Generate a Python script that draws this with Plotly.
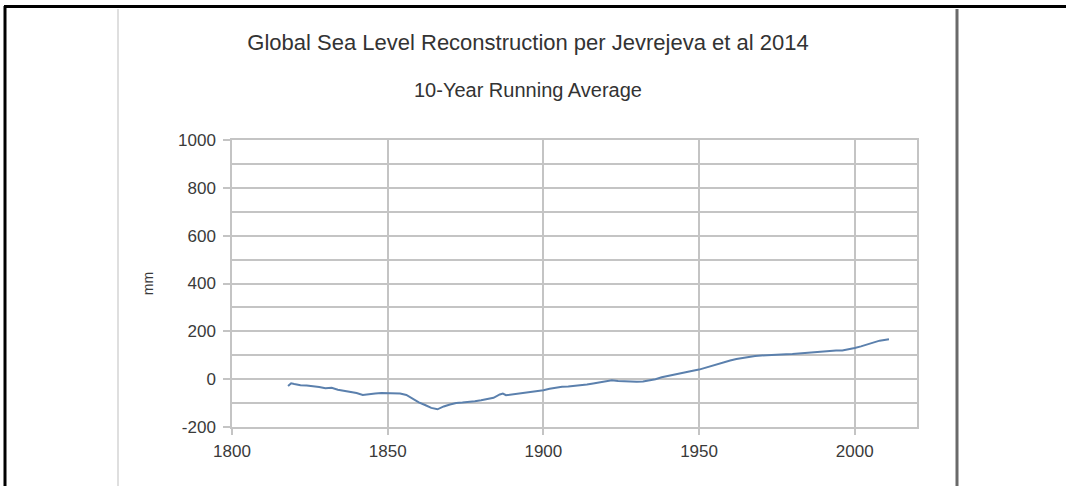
import plotly.graph_objects as go

years = [1818, 1819, 1820, 1822, 1824, 1826, 1828, 1830, 1832, 1834, 1836, 1838,
         1840, 1842, 1844, 1846, 1848, 1850, 1852, 1854, 1856, 1858, 1860, 1862,
         1864, 1866, 1868, 1870, 1872, 1874, 1876, 1878, 1880, 1882, 1884, 1886,
         1887, 1888, 1890, 1892, 1894, 1896, 1898, 1900, 1902, 1904, 1906, 1908,
         1910, 1912, 1914, 1916, 1918, 1920, 1922, 1924, 1926, 1928, 1930, 1932,
         1934, 1936, 1938, 1940, 1942, 1944, 1946, 1948, 1950, 1952, 1954, 1956,
         1958, 1960, 1962, 1964, 1966, 1968, 1970, 1972, 1974, 1976, 1978, 1980,
         1982, 1984, 1986, 1988, 1990, 1992, 1994, 1996, 1998, 2000, 2002, 2004,
         2006, 2008, 2010, 2011]
sea_level_mm = [-29, -17, -20, -25, -26, -28, -33, -38, -36, -44, -48, -52,
                -58, -66, -62, -60, -58, -58, -57, -60, -66, -82, -97, -108,
                -120, -126, -114, -106, -100, -98, -96, -92, -88, -84, -78, -64,
                -60, -67, -64, -60, -57, -54, -50, -46, -40, -35, -32, -31,
                -29, -26, -22, -18, -14, -10, -5, -8, -10, -11, -11, -10,
                -6, 0, 8, 14, 20, 25, 30, 35, 40, 48, 56, 64,
                71, 78, 84, 89, 93, 97, 99, 101, 102, 103, 104, 105,
                107, 110, 113, 115, 118, 119, 120, 120, 124, 130, 137, 146,
                155, 161, 165, 167]

title_text = "Global Sea Level Reconstruction per Jevrejeva et al 2014"
subtitle_text = "10-Year Running Average"
y_title = "mm"
x_range = [1800, 2020]
y_range = [-200, 1000]
y_tick_values = [-200, 0, 200, 400, 600, 800, 1000]
y_tick_labels = ["-200", "0", "200", "400", "600", "800", "1000"]

FONT = "Liberation Sans, Arial, sans-serif"
GRID = "#c4c4c4"
TXT = "#3a3a3a"

fig = go.Figure()
fig.add_trace(go.Scatter(x=years, y=sea_level_mm, mode="lines",
                         line=dict(color="#5b80ad", width=2), showlegend=False))

W, H = 1066, 486
L, R, T, B = 232, 149, 140, 59
pw, ph = W - L - R, H - T - B

def px(x):
    return (x - L) / pw

def py(y):
    return (H - B - y) / ph

shapes = [
    dict(type="line", xref="paper", yref="paper", x0=px(4), x1=px(1066), y0=py(6.5), y1=py(6.5),
         line=dict(color="black", width=3)),
    dict(type="line", xref="paper", yref="paper", x0=px(5), x1=px(5), y0=py(6), y1=py(486),
         line=dict(color="black", width=3)),
    dict(type="line", xref="paper", yref="paper", x0=px(118), x1=px(118), y0=py(9), y1=py(486),
         line=dict(color="#d4d4d4", width=1.5)),
    dict(type="line", xref="paper", yref="paper", x0=px(957), x1=px(957), y0=py(9), y1=py(486),
         line=dict(color="#6a6a6a", width=3)),
]

fig.update_layout(
    width=W, height=H,
    margin=dict(l=L, r=R, t=T, b=B),
    paper_bgcolor="white", plot_bgcolor="white",
    font=dict(family=FONT, color=TXT),
    title=dict(text=title_text, xref="container", x=528 / W, xanchor="center",
               yref="container", y=1 - 42 / H, yanchor="middle",
               font=dict(size=22, color="#333333", family=FONT)),
    annotations=[dict(text=subtitle_text, xref="paper", yref="paper", x=px(528), y=py(90),
                      xanchor="center", yanchor="middle", showarrow=False,
                      font=dict(size=20, color="#333333", family=FONT))],
    shapes=shapes,
    xaxis=dict(range=x_range, dtick=50, tick0=1800, showgrid=True, gridcolor=GRID, gridwidth=1.5,
               zeroline=False, showline=True, linecolor=GRID, linewidth=1.5, mirror=True,
               ticks="outside", ticklen=6, tickcolor=GRID, tickwidth=1.5,
               tickfont=dict(size=17, color=TXT), ticklabelstandoff=2),
    yaxis=dict(range=y_range, tickmode="array", tickvals=y_tick_values, ticktext=y_tick_labels,
               showgrid=True, gridcolor=GRID, gridwidth=1.5,
               zeroline=False, showline=True, linecolor=GRID, linewidth=1.5, mirror=True,
               ticks="outside", ticklen=7, tickcolor=GRID, tickwidth=1.5,
               tickfont=dict(size=17, color=TXT), ticklabelstandoff=4,
               minor=dict(dtick=100, tick0=0, showgrid=True, gridcolor=GRID, gridwidth=1.5),
               title=dict(text=y_title, font=dict(size=14, color=TXT), standoff=21)),
)

fig.write_html("out.html", config={"displayModeBar": False},
               post_script="document.body.style.margin='0';document.body.style.padding='0';")
